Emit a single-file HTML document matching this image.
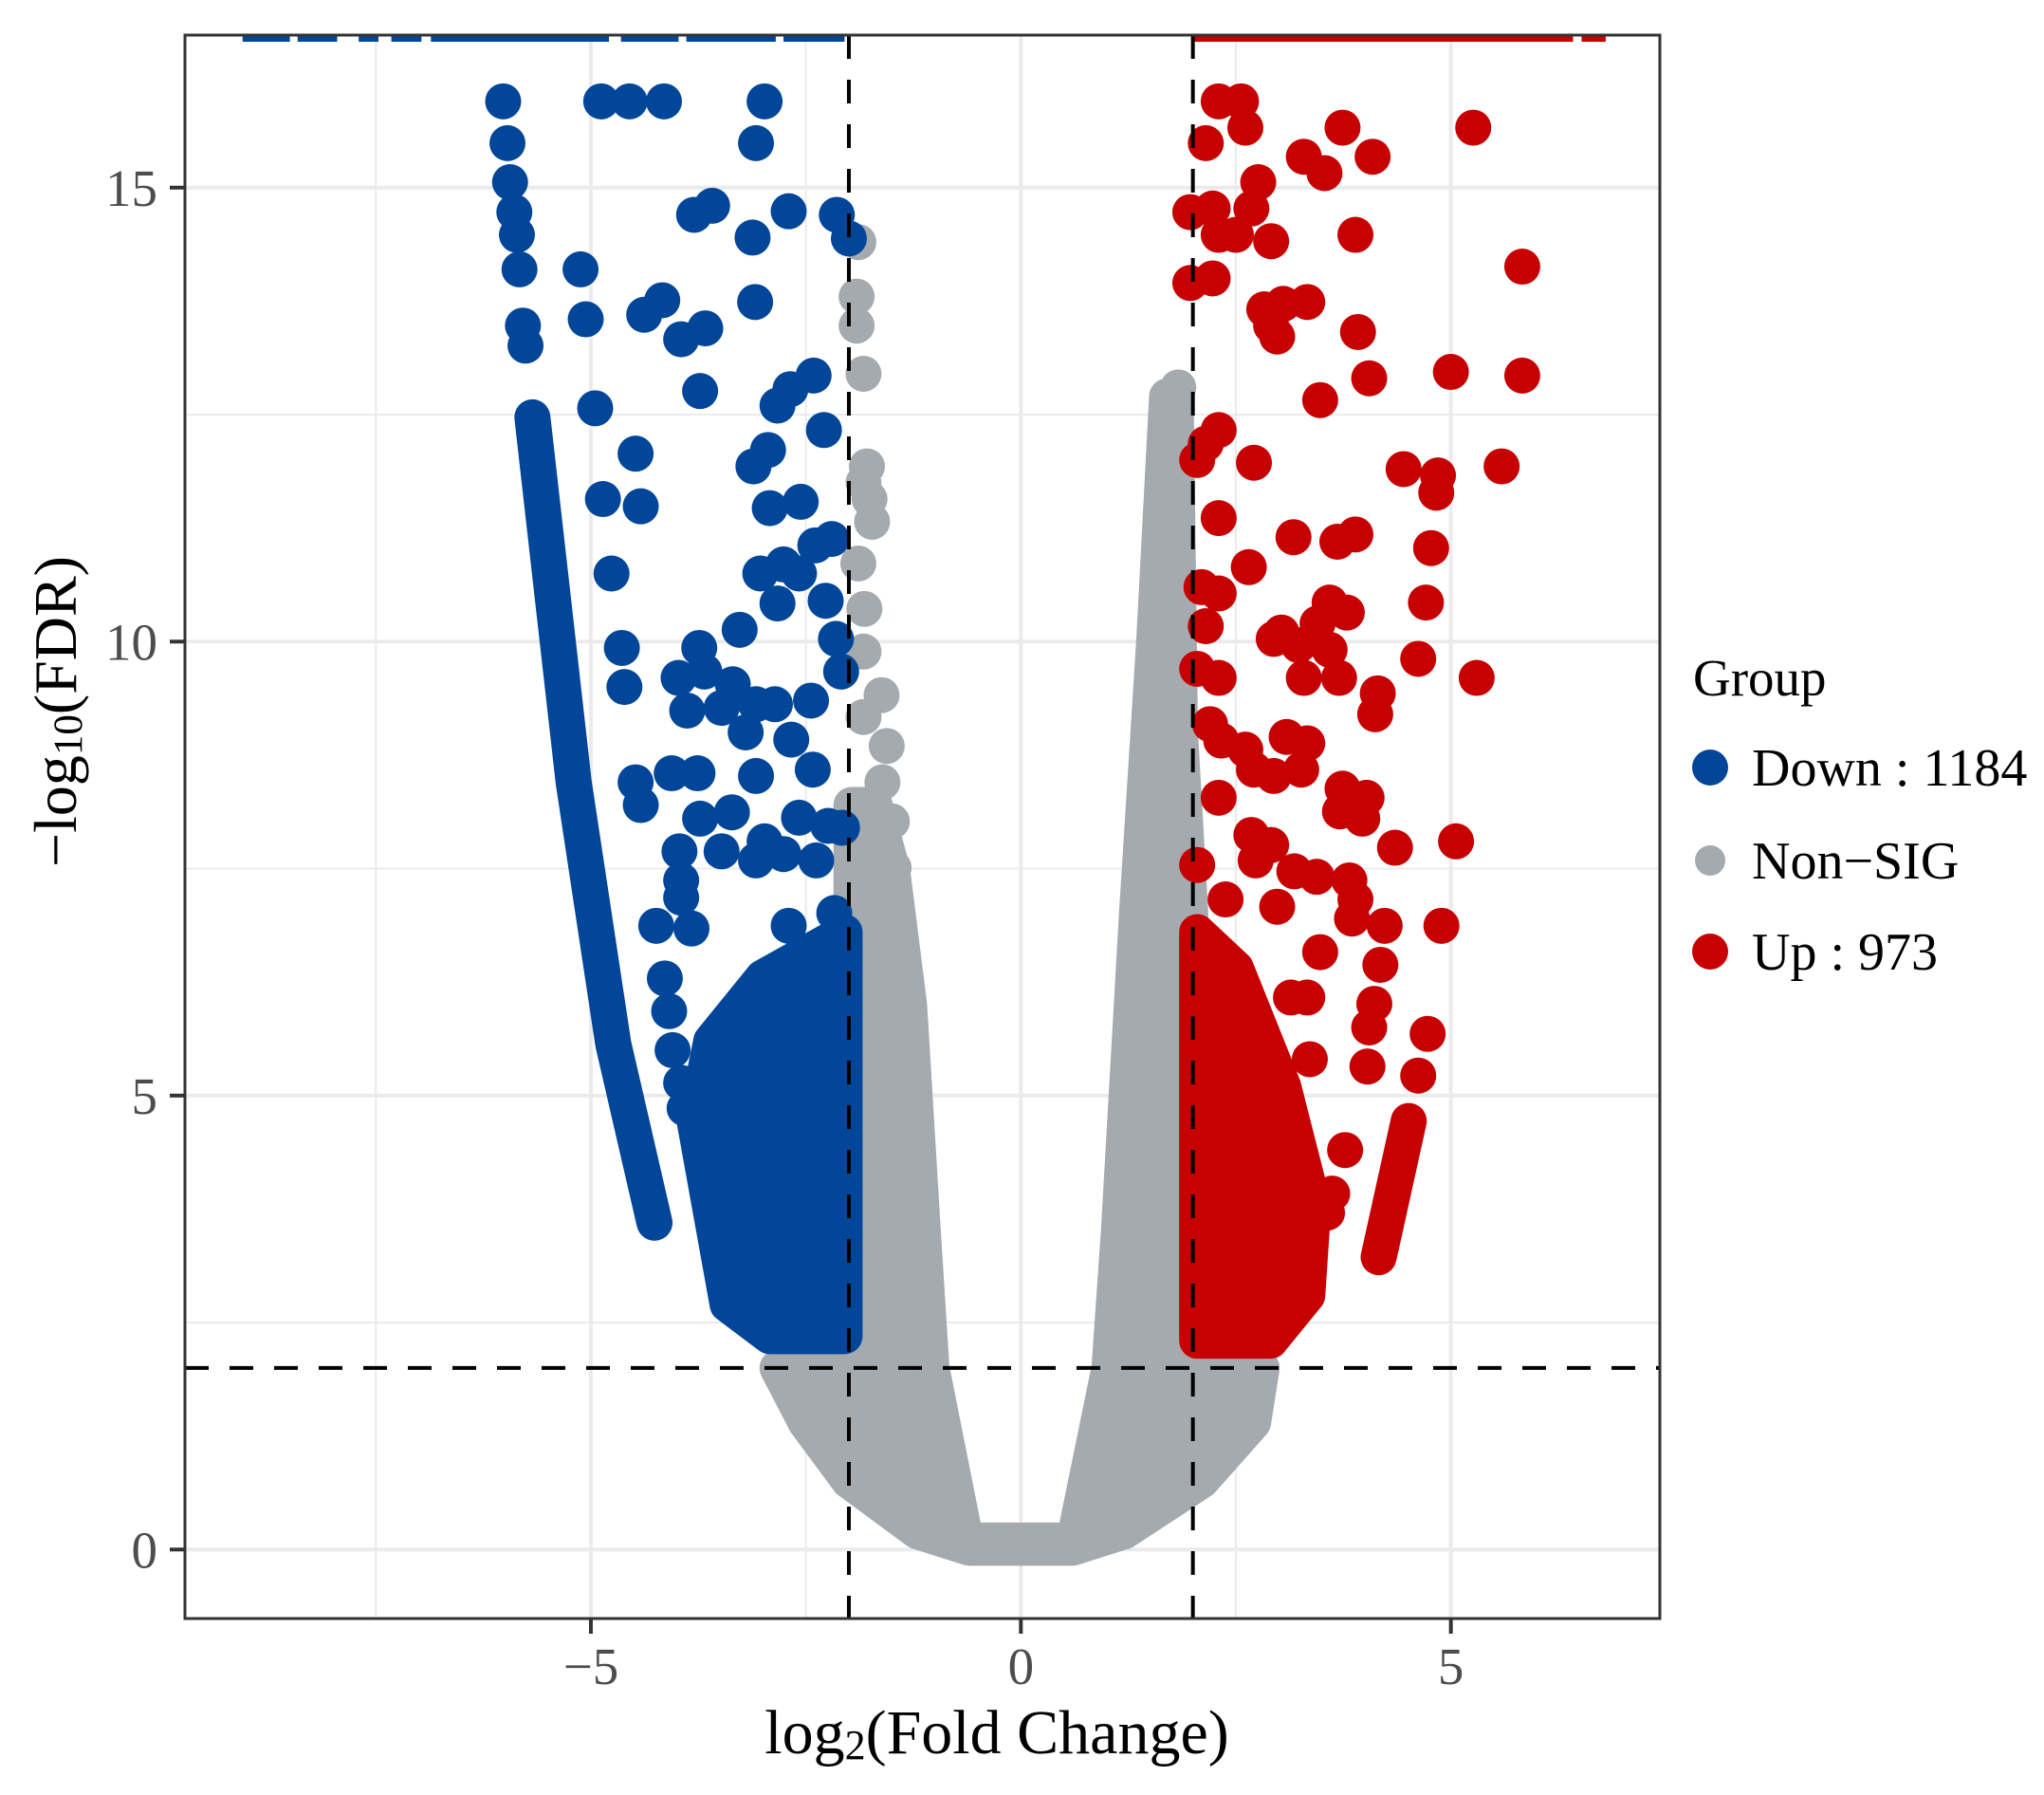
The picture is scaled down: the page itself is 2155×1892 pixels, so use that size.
<!DOCTYPE html>
<html><head><meta charset="utf-8"><style>
html,body{margin:0;padding:0;background:#fff;}
svg{display:block;font-family:"Liberation Serif","DejaVu Serif",serif;}
</style></head><body>
<svg id="chart" width="2155" height="1892" viewBox="0 0 2155 1892" xmlns="http://www.w3.org/2000/svg">
<defs><clipPath id="panelClip"><rect x="195" y="37" width="1555" height="1669"/></clipPath></defs>
<rect x="0" y="0" width="2155" height="1892" fill="#fff"/>
<g id="grid"></g>
<g id="marks" clip-path="url(#panelClip)"></g>
<g id="thresholds"></g>
<rect x="195" y="37" width="1555" height="1669" fill="none" stroke="#333" stroke-width="3"/>
<g id="axes"></g>
<text x="1051" y="1848" text-anchor="middle" font-size="66" fill="#000">log<tspan font-size="44" dy="6">2</tspan><tspan dy="-6">(Fold Change)</tspan></text>
<text transform="translate(80,750) rotate(-90)" text-anchor="middle" font-size="64" fill="#000">−log<tspan font-size="43" dy="6">10</tspan><tspan dy="-6">(FDR)</tspan></text>
<g>
<text x="1785" y="733" font-size="55" fill="#000">Group</text>
<g><circle cx="1803" cy="809" r="19" fill="#024699"/><text x="1847" y="828" font-size="56" fill="#000">Down : 1184</text></g>
<g><circle cx="1803" cy="907" r="16" fill="#a5aaaf"/><text x="1847" y="926" font-size="56" fill="#000">Non−SIG</text></g>
<g><circle cx="1803" cy="1003" r="19" fill="#c70002"/><text x="1847" y="1022" font-size="56" fill="#000">Up : 973</text></g>
</g>
</svg>
<script>
// axis domain
const xDomain = [-9.72, 7.43];
const yDomain = [-0.76, 16.68];
const xTicks = [-5, 0, 5];
const xTickLabels = ["−5", "0", "5"];
const yTicks = [0, 5, 10, 15];
const yTickLabels = ["0", "5", "10", "15"];
const xMinor = [-7.5, -2.5, 2.5];
const yMinor = [2.5, 7.5, 12.5];
const fcCut = [-2, 2];
const fdrCut = [2];

// Non-SIG dense cloud outline (x,y)
const grayCloudX = [-0.6,0.6,1.2,2.1,2.7,2.8,1.95,1.97,1.85,1.8,1.7,1.55,1.35,1.14,1.03,0.62,-0.64,-1.04,-1.14,-1.3,-1.5,-1.7,-1.97,-1.97,-2.83,-2.5,-2.0,-1.2];
const grayCloudY = [0.02,0.02,0.2,0.76,1.4,2.0,2.05,7,9,12.7,12.7,10,7,3.5,2.0,0.1,0.1,2.0,3.5,6,7.5,8.2,8.2,2.05,2.0,1.4,0.76,0.2];
// Non-SIG scattered
const grayX = [-1.89,-1.91,-1.91,-1.83,-1.79,-1.83,-1.76,-1.73,-1.89,-1.82,-1.83,-1.62,-1.83,-1.56,-1.61,-1.5,-1.94,-1.48,1.83,1.77,1.73,1.73,1.73,1.73,1.67,1.62];
const grayY = [14.4,13.8,13.48,12.95,11.93,11.75,11.57,11.32,10.86,10.36,9.89,9.41,9.17,8.85,8.45,8.02,7.59,7.51,12.8,12.47,12.11,11.35,10.75,9.74,9.09,8.45];

// Down dense cluster outline
const downCloudX = [-2.05,-2.92,-3.41,-3.79,-3.6,-3.0,-2.05];
const downCloudY = [2.35,2.35,2.7,4.7,5.6,6.3,6.8];
// Down diagonal streak
const downStreakX = [-5.68,-5.2,-4.74,-4.26];
const downStreakY = [12.47,8.45,5.57,3.6];
// Down scattered
const downX = [-6.02,-5.97,-5.94,-5.89,-5.86,-5.83,-5.79,-5.76,-4.88,-4.55,-4.15,-2.98,-3.08,-5.12,-5.06,-4.95,-4.48,-4.86,-4.42,-4.76,-4.64,-4.61,-4.48,-4.42,-3.8,-3.59,-3.12,-2.7,-2.14,-2.0,-4.38,-4.17,-3.95,-3.67,-3.73,-3.09,-2.83,-2.68,-2.41,-2.29,-3.11,-2.94,-2.92,-2.56,-2.39,-2.2,-3.03,-2.76,-2.58,-2.83,-3.27,-2.27,-2.15,-3.74,-3.98,-3.68,-3.35,-2.09,-3.88,-3.48,-3.08,-2.86,-2.44,-3.2,-2.67,-3.08,-2.42,-4.06,-3.76,-3.73,-3.36,-2.58,-2.24,-2.08,-3.97,-3.48,-2.98,-2.76,-2.38,-3.95,-3.95,-3.08,-4.24,-3.83,-4.14,-4.09,-4.05,-3.95,-3.91,-2.7,-2.17];
const downY = [15.95,15.49,15.06,14.73,14.48,14.1,13.48,13.26,15.95,15.95,15.95,15.95,15.49,14.1,13.55,12.57,12.07,11.57,11.49,10.75,9.93,9.5,8.45,8.2,14.7,14.8,14.45,14.74,14.7,14.44,13.6,13.76,13.33,13.45,12.76,13.74,12.6,12.78,12.93,12.33,11.93,12.11,11.47,11.54,11.06,11.13,10.75,10.85,10.75,10.42,10.13,10.45,10.03,9.93,9.6,9.67,9.53,9.67,9.24,9.27,9.31,9.31,9.35,9.0,8.92,8.52,8.59,8.55,8.55,8.05,8.12,8.06,7.97,7.95,7.69,7.69,7.8,7.66,7.59,7.37,7.18,7.59,6.87,6.84,6.29,5.93,5.5,5.14,4.86,6.87,7.01];
// Down off-scale (clipped at top) x ranges
const downTopStart = [-9.05,-8.41,-7.7,-7.32,-6.86,-4.65,-3.89,-2.76];
const downTopEnd = [-8.5,-7.95,-7.47,-6.97,-4.79,-3.98,-2.85,-2.05];

// Up dense cluster outline
const upCloudX = [2.05,2.9,3.33,3.4,3.05,2.5,2.05];
const upCloudY = [2.3,2.3,2.8,3.8,5.1,6.4,6.8];
const upStreakX = [4.16,4.51];
const upStreakY = [3.22,4.72];
const upX = [2.3,2.56,2.15,2.61,3.74,5.26,3.29,3.53,4.09,2.76,1.97,2.23,2.68,2.3,2.5,2.91,3.89,5.83,1.97,2.23,2.83,3.05,3.33,2.91,2.98,3.92,5.0,4.05,5.83,3.48,2.3,2.15,2.05,2.71,4.45,4.85,5.59,4.83,2.3,3.17,3.68,3.89,4.77,2.65,2.1,2.3,2.15,3.59,3.79,3.45,4.71,3.03,3.23,3.59,4.62,2.94,3.29,3.7,5.3,2.05,2.3,4.15,4.12,2.2,2.33,3.09,3.33,2.61,2.71,2.94,3.26,3.74,4.02,3.71,3.97,2.3,2.68,2.91,5.06,4.35,2.05,2.73,3.18,3.44,3.82,2.38,2.98,3.89,3.85,4.23,4.89,3.48,4.18,3.14,3.33,4.11,4.05,4.73,4.03,4.62,3.36,3.77,3.62,3.56];
const upY = [15.95,15.95,15.49,15.66,15.66,15.66,15.34,15.16,15.34,15.06,14.73,14.77,14.77,14.48,14.48,14.41,14.48,14.13,13.95,14.0,13.66,13.72,13.74,13.48,13.36,13.41,12.97,12.9,12.93,12.66,12.33,12.18,12.0,11.97,11.9,11.83,11.93,11.64,11.36,11.15,11.1,11.18,11.03,10.82,10.6,10.53,10.17,10.43,10.32,10.2,10.43,10.1,9.96,9.91,9.81,10.03,9.6,9.6,9.6,9.7,9.6,9.43,9.2,9.09,8.91,8.95,8.88,8.81,8.59,8.52,8.59,8.38,8.28,8.13,8.05,8.28,7.87,7.76,7.8,7.73,7.54,7.59,7.47,7.41,7.37,7.16,7.08,7.16,6.95,6.87,6.87,6.58,6.44,6.08,6.08,6.01,5.75,5.68,5.32,5.22,5.4,4.4,3.92,3.71];
const upTopStart = [1.98,6.52];
const upTopEnd = [6.42,6.8];

const PL=195, PR=1750, PT=37, PB=1706;
const sx = v => PL + (v - xDomain[0]) / (xDomain[1] - xDomain[0]) * (PR - PL);
const sy = v => PB - (v - yDomain[0]) / (yDomain[1] - yDomain[0]) * (PB - PT);
const NS = "http://www.w3.org/2000/svg";
function mk(tag, attrs, parent){const e=document.createElementNS(NS,tag);for(const k in attrs)e.setAttribute(k,attrs[k]);parent.appendChild(e);return e;}
const grid=document.getElementById('grid'), marks=document.getElementById('marks'), thr=document.getElementById('thresholds'), axes=document.getElementById('axes');
mk('rect',{x:PL,y:PT,width:PR-PL,height:PB-PT,fill:'#fff'},grid);
xMinor.forEach(v=>{const l=mk('line',{x1:sx(v),x2:sx(v),y1:PT,y2:PB,stroke:'#ebebeb','stroke-width':2},grid);

});
yMinor.forEach(v=>{const l=mk('line',{x1:PL,x2:PR,y1:sy(v),y2:sy(v),stroke:'#ebebeb','stroke-width':2},grid);

});
xTicks.forEach((v,i)=>{const l=mk('line',{x1:sx(v),x2:sx(v),y1:PT,y2:PB,stroke:'#ebebeb','stroke-width':4},grid);


const t=mk('line',{x1:sx(v),x2:sx(v),y1:PB,y2:PB+16,stroke:'#333','stroke-width':4},axes);


const tx=mk('text',{x:sx(v),y:1775,'text-anchor':'middle','font-size':55,fill:'#4d4d4d'},axes);tx.textContent=xTickLabels[i];

});
yTicks.forEach((v,i)=>{const l=mk('line',{x1:PL,x2:PR,y1:sy(v),y2:sy(v),stroke:'#ebebeb','stroke-width':4},grid);


const t=mk('line',{x1:PL-16,x2:PL,y1:sy(v),y2:sy(v),stroke:'#333','stroke-width':4},axes);


const tx=mk('text',{x:166,y:sy(v)+19,'text-anchor':'end','font-size':55,fill:'#4d4d4d'},axes);tx.textContent=yTickLabels[i];

});

const R=19;
function cloud(xs,ys,color,name){const d=xs.map((x,i)=>(i?'L':'M')+sx(x)+','+sy(ys[i])).join(' ')+' Z';
const p=mk('path',{d:d,fill:color,stroke:color,'stroke-width':2*R,'stroke-linejoin':'round'},marks);

}
function streak(xs,ys,color,name){const d=xs.map((x,i)=>(i?'L':'M')+sx(x)+','+sy(ys[i])).join(' ');
const p=mk('path',{d:d,fill:'none',stroke:color,'stroke-width':2*R,'stroke-linejoin':'round','stroke-linecap':'round'},marks);

}
function pts(xs,ys,color,name){xs.forEach((x,i)=>{const c=mk('circle',{cx:sx(x),cy:sy(ys[i]),r:R,fill:color},marks);

});}
function tops(a,b,color,name){a.forEach((s,i)=>{const r=mk('rect',{x:sx(s),y:PT,width:sx(b[i])-sx(s),height:7,fill:color},marks);

});}
const GRAY='#a5aaaf', BLUE='#024699', RED='#c70002';
cloud(grayCloudX,grayCloudY,GRAY,'nonsig-cloud');
pts(grayX,grayY,GRAY,'nonsig-point');
cloud(downCloudX,downCloudY,BLUE,'down-cloud');
streak(downStreakX,downStreakY,BLUE,'down-streak');
pts(downX,downY,BLUE,'down-point');
tops(downTopStart,downTopEnd,BLUE,'down-offscale-points');
cloud(upCloudX,upCloudY,RED,'up-cloud');
streak(upStreakX,upStreakY,RED,'up-streak');
pts(upX,upY,RED,'up-point');
tops(upTopStart,upTopEnd,RED,'up-offscale-points');

fcCut.forEach(v=>{const l=mk('line',{x1:sx(v),x2:sx(v),y1:PT,y2:PB,stroke:'#000','stroke-width':4,'stroke-dasharray':'25,22'},thr);

});
fdrCut.forEach(v=>{const l=mk('line',{x1:PL,x2:PR,y1:sy(v),y2:sy(v),stroke:'#000','stroke-width':4,'stroke-dasharray':'25,22'},thr);

});
</script>
</body></html>
